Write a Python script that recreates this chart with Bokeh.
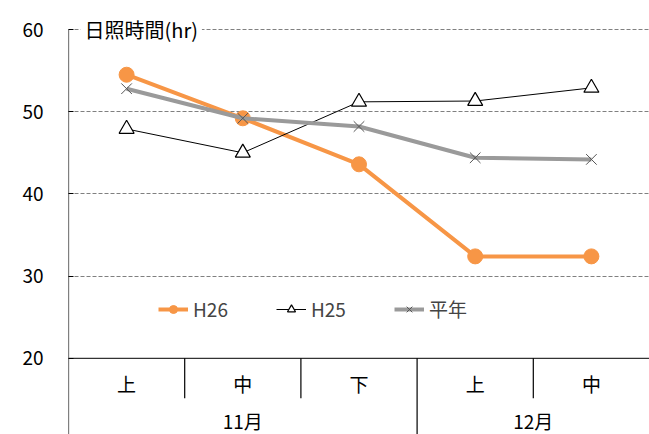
from bokeh.plotting import figure
from bokeh.models import Range1d, FixedTicker, Label, Legend, LegendItem
from bokeh.embed import file_html
from bokeh.resources import INLINE

# Sunshine hours per ten-day period (上旬/中旬/下旬), Nov–Dec
periods = ["上", "中", "下", "上", "中"]
months = ["11月", "11月", "11月", "12月", "12月"]
h26 = [54.5, 49.2, 43.6, 32.4, 32.4]
h25 = [47.9, 45.0, 51.2, 51.3, 52.9]
normal = [52.8, 49.2, 48.2, 44.4, 44.2]
y_ticks = [20, 30, 40, 50, 60]
grid_ticks = [30, 40, 50, 60]

FONT = "Noto Sans CJK JP"
FS = "19px"
ORANGE = "#F79646"
GRAY = "#9A9A9A"

# value range of the axis, plus headroom for the axis title
y_lo, y_hi = y_ticks[0], y_ticks[-1]
y_min, y_top = 10.73, 63.53
n = len(periods)
xs = [i + 0.5 for i in range(n)]

p = figure(width=649, height=434, output_backend="svg", toolbar_location=None,
           x_range=Range1d(0, n), y_range=Range1d(y_min, y_top),
           x_axis_location=None, min_border_left=68, min_border_right=0,
           min_border_top=0, min_border_bottom=0, outline_line_color=None)

# y axis: ticks and labels from the axis, its line drawn from 60 down
ax = p.yaxis[0]
ax.ticker = FixedTicker(ticks=y_ticks)
ax.axis_line_color = None
ax.major_tick_in = 5
ax.major_tick_out = 0
ax.minor_tick_line_color = None
ax.major_label_standoff = 25
ax.major_label_text_font = FONT
ax.major_label_text_font_size = FS
ax.major_label_text_color = "black"
p.segment(x0=[0], y0=[y_hi], x1=[0], y1=[y_min], line_color="black", line_width=1.2)

p.xgrid.visible = False
p.ygrid.ticker = FixedTicker(ticks=grid_ticks)
p.ygrid.grid_line_color = "#808080"
p.ygrid.grid_line_dash = "4 2"
p.ygrid.grid_line_width = 1

# category axis baseline at 20
p.segment(x0=[0], y0=[y_lo], x1=[n], y1=[y_lo], line_color="black", line_width=1)

# dividers between periods; month boundary runs to the bottom
sep_x, sep_y1 = [], []
for i in range(1, n):
    sep_x.append(i)
    sep_y1.append(y_min if months[i] != months[i - 1] else 15.13)
p.segment(x0=sep_x, y0=[y_lo] * len(sep_x), x1=sep_x, y1=sep_y1,
          line_color="black", line_width=1.2)

# period labels
p.text(x=xs, y=[16.96] * n, text=periods, text_align="center", text_baseline="middle",
       text_font={"value": FONT}, text_font_size=FS, text_color="black")

# month labels centered on their span
month_names, month_centers = [], []
for m in dict.fromkeys(months):
    idx = [i for i, mm in enumerate(months) if mm == m]
    month_names.append(m)
    month_centers.append((idx[0] + idx[-1] + 1) / 2)
p.text(x=month_centers, y=[12.46] * len(month_names), text=month_names,
       text_align="center", text_baseline="middle",
       text_font={"value": FONT}, text_font_size=FS, text_color="black")

# series
l26 = p.line(xs, h26, line_color=ORANGE, line_width=4)
m26 = p.scatter(xs, h26, marker="circle", size=15, fill_color=ORANGE, line_color=ORANGE)

l25 = p.line(xs, h25, line_color="black", line_width=1)
m25 = p.scatter(xs, h25, marker="triangle", size=15, fill_color="white", line_color="black",
                line_width=1.2)

ln = p.line(xs, normal, line_color=GRAY, line_width=4)
mn = p.scatter(xs, normal, marker="x", size=15, line_color="#555555", line_width=1)

legend = Legend(items=[LegendItem(label="H26", renderers=[l26, m26]),
                       LegendItem(label="H25", renderers=[l25, m25]),
                       LegendItem(label="平年", renderers=[ln, mn])],
                orientation="horizontal", location=(90, 112),
                glyph_width=30, glyph_height=20, label_height=20,
                label_standoff=5, spacing=48, padding=0, margin=0,
                border_line_alpha=0, background_fill_alpha=0,
                label_text_font=FONT, label_text_font_size=FS)
p.add_layout(legend)

title = Label(x=0, y=y_hi, x_offset=12, text="日照時間(hr)", text_baseline="middle",
              text_font=FONT, text_font_size="20px", text_color="black",
              background_fill_color="white", padding=4)
p.add_layout(title)

open("out.html", "w").write(file_html(p, INLINE))
